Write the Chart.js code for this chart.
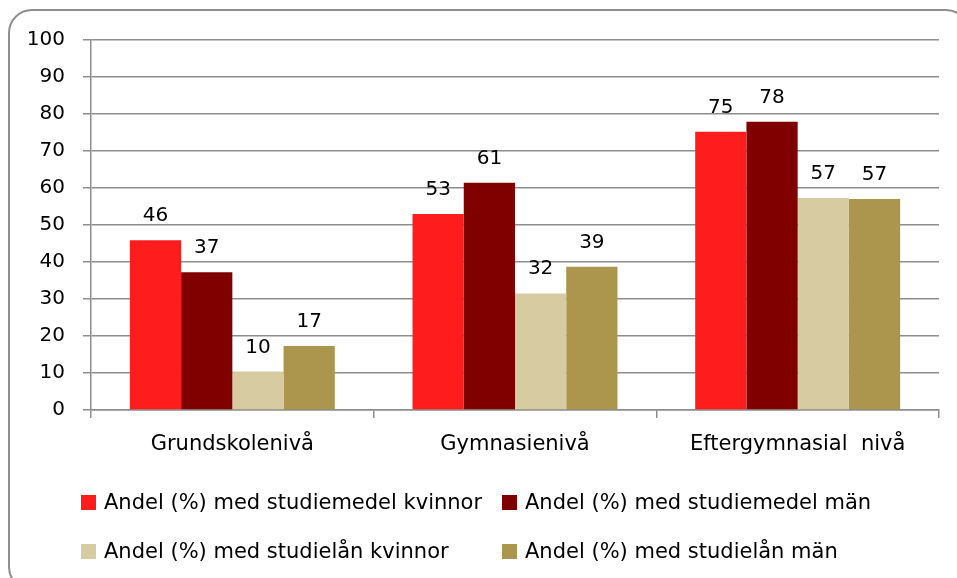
<!DOCTYPE html>
<html>
<head>
<meta charset="utf-8">
<script src="https://cdn.jsdelivr.net/npm/chart.js@4.4.1/dist/chart.umd.min.js"></script>
<style>
    html, body { margin: 0; padding: 0; background: #fff; overflow: hidden; }
    #wrap { position: relative; width: 957px; height: 578px; overflow: hidden; font-family: "DejaVu Sans", sans-serif; }
    #frame { position: absolute; left: 8px; top: 9px; width: 962px; height: 582px; border: 2px solid #8e8e8e; border-radius: 24px; box-sizing: border-box; }
    #chart { position: absolute; left: 0; top: 0; }
    #legend { position: absolute; left: 0; top: 0; width: 957px; height: 578px; pointer-events: none; }
    .item { position: absolute; display: flex; align-items: center; font-size: 21px; color: #000; white-space: nowrap; }
    .item span.box { display: inline-block; width: 15px; height: 15px; margin-right: 8px; }
</style>
</head>
<body>
<div id="wrap">
    <div id="frame"></div>
    <canvas id="chart" width="957" height="578"></canvas>
    <div id="legend"></div>
</div>
<script>
const categories = ['Grundskolenivå', 'Gymnasienivå', 'Eftergymnasial  nivå'];
const seriesNames = [
    'Andel (%) med studiemedel kvinnor',
    'Andel (%) med studiemedel män',
    'Andel (%) med studielån kvinnor',
    'Andel (%) med studielån män'
];
const studiemedelKvinnor = [45.9, 53.0, 75.2];
const studiemedelMan = [37.2, 61.4, 77.9];
const studielanKvinnor = [10.4, 31.5, 57.3];
const studielanMan = [17.3, 38.7, 57.0];
const yTicks = [0, 10, 20, 30, 40, 50, 60, 70, 80, 90, 100];

const colors = ['#ff1c1c', '#800000', '#d7cba2', '#ac964e'];
const gridColor = '#8e8e8e';
const font = { family: '"DejaVu Sans", sans-serif', size: 20 };

// value labels above each bar
const barLabels = {
    id: 'barLabels',
    afterDatasetsDraw(chart) {
        const ctx = chart.ctx;
        ctx.save();
        ctx.font = font.size + 'px ' + font.family;
        ctx.fillStyle = '#000';
        ctx.textAlign = 'center';
        ctx.textBaseline = 'alphabetic';
        chart.data.datasets.forEach((ds, i) => {
            chart.getDatasetMeta(i).data.forEach((bar, j) => {
                ctx.fillText(Math.round(ds.data[j]), bar.x, bar.y - 19);
            });
        });
        ctx.restore();
    }
};

const ctx = document.getElementById('chart').getContext('2d');
const chart = new Chart(ctx, {
    type: 'bar',
    data: {
        labels: categories,
        datasets: [studiemedelKvinnor, studiemedelMan, studielanKvinnor, studielanMan].map((d, i) => ({
            label: seriesNames[i],
            data: d,
            backgroundColor: colors[i],
            borderWidth: 0,
            categoryPercentage: 0.725,
            barPercentage: 1
        }))
    },
    options: {
        responsive: false,
        animation: false,
        devicePixelRatio: 1,
        layout: { padding: { left: 0, top: 40, right: 18, bottom: 113 } },
        plugins: {
            legend: { display: false },
            tooltip: { enabled: false }
        },
        scales: {
            x: {
                grid: { drawOnChartArea: false, drawTicks: true, tickLength: 8, color: gridColor, lineWidth: 1.5 },
                border: { color: gridColor, width: 1.5 },
                ticks: { color: '#000', font: { family: font.family, size: 21 }, padding: 14, maxRotation: 0 },
                afterFit(scale) { scale.height = 55; }
            },
            y: {
                min: 0,
                max: 100,
                afterBuildTicks(scale) { scale.ticks = yTicks.map(v => ({ value: v })); },
                grid: { color: gridColor, lineWidth: 1.5, tickLength: 8 },
                border: { color: gridColor, width: 1.5 },
                ticks: { color: '#000', font: font, padding: 18 },
                afterFit(scale) { scale.width = 91; }
            }
        }
    },
    plugins: [barLabels]
});

// legend laid out like the original grid: two columns, two rows
const legendPos = [[81, 502], [502, 502], [81, 551], [502, 551]];
const legendEl = document.getElementById('legend');
chart.data.datasets.forEach((ds, i) => {
    const item = document.createElement('div');
    item.className = 'item';
    item.style.left = legendPos[i][0] + 'px';
    item.style.top = (legendPos[i][1] - 13) + 'px';
    item.style.height = '26px';
    item.innerHTML = '<span class="box" style="background:' + ds.backgroundColor + '"></span>' + ds.label;
    legendEl.appendChild(item);
});
</script>
</body>
</html>
